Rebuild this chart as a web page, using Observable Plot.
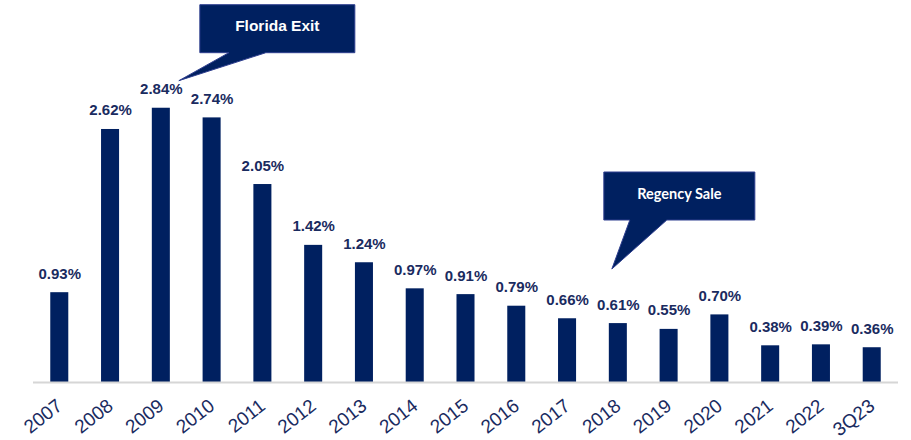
<!DOCTYPE html>
<html>
<head>
<meta charset="utf-8">
<script src="https://cdn.jsdelivr.net/npm/d3@7"></script>
<script src="https://cdn.jsdelivr.net/npm/@observablehq/plot@0.6"></script>
<style>
  html, body { margin: 0; padding: 0; background: #fff; }
  #chart svg { display: block; }
</style>
</head>
<body>
<div id="chart"></div>
<script>
const categories = ["2007","2008","2009","2010","2011","2012","2013","2014","2015","2016","2017","2018","2019","2020","2021","2022","3Q23"];
const values = [0.93, 2.62, 2.84, 2.74, 2.05, 1.42, 1.24, 0.97, 0.91, 0.79, 0.66, 0.61, 0.55, 0.70, 0.38, 0.39, 0.36];
const calloutLabels = ["Florida Exit", "Regency Sale"];
const calloutYears = ["2009", "2018"];
const calloutValues = [3.12, 1.17];

const data = categories.map((c, i) => ({cat: c, value: values[i]}));
const NAVY = "#002060";
const LABEL = "#1a2b5f";

// callout geometry (pixel offsets relative to the pointer tip)
const calloutShapes = [
  {dx: 18, box: [21, 176, -76, -28], base: [50, 87], font: "bold 15.5px 'Liberation Sans', Arial, sans-serif", ty: -3},
  {dx: -6, box: [-8, 143, -97, -49], base: [18, 55], font: "bold 14.5px Lato, 'Open Sans', sans-serif", ty: -3}
];

function calloutMark(index, scales) {
  const ns = "http://www.w3.org/2000/svg";
  const g = document.createElementNS(ns, "g");
  calloutLabels.forEach((lab, i) => {
    const s = calloutShapes[i];
    const tx = scales.x(calloutYears[i]) + scales.x.bandwidth() / 2 + s.dx;
    const ty = scales.y(calloutValues[i]);
    const [x0, x1, y0, y1] = s.box;
    const path = document.createElementNS(ns, "path");
    const d = [
      `M${tx + x0},${ty + y0}`,
      `L${tx + x1},${ty + y0}`,
      `L${tx + x1},${ty + y1}`,
      `L${tx + s.base[1]},${ty + y1}`,
      `L${tx},${ty}`,
      `L${tx + s.base[0]},${ty + y1}`,
      `L${tx + x0},${ty + y1}`,
      "Z"
    ].join(" ");
    path.setAttribute("d", d);
    path.setAttribute("fill", NAVY);
    path.setAttribute("stroke", "#2f3f8f");
    path.setAttribute("stroke-width", "1");
    g.appendChild(path);
    const t = document.createElementNS(ns, "text");
    t.setAttribute("x", tx + (x0 + x1) / 2);
    t.setAttribute("y", ty + (y0 + y1) / 2 + s.ty);
    t.setAttribute("text-anchor", "middle");
    t.setAttribute("dominant-baseline", "central");
    t.setAttribute("fill", "#ffffff");
    t.setAttribute("style", `font: ${s.font}`);
    t.textContent = lab;
    g.appendChild(t);
  });
  return g;
}

const chart = Plot.plot({
  width: 911,
  height: 440,
  marginLeft: 33,
  marginRight: 13,
  marginTop: 44,
  marginBottom: 58,
  style: {fontFamily: "'Liberation Sans', Arial, sans-serif", background: "#fff"},
  x: {domain: categories, paddingInner: 0.645, paddingOuter: 0.34, round: false, axis: null},
  y: {domain: [0, 3.5], axis: null},
  marks: [
    Plot.barY(data, {x: "cat", y: "value", fill: NAVY}),
    Plot.ruleY([0], {stroke: "#d6d6d6", strokeWidth: 2}),
    Plot.text(data, {
      x: "cat", y: "value",
      text: d => d.value.toFixed(2) + "%",
      dy: -14, lineAnchor: "bottom",
      fill: LABEL, fontWeight: "bold", fontSize: 15
    }),
    Plot.text(data, {
      x: "cat", y: () => 0,
      text: "cat",
      dx: 0, dy: 21, rotate: -38,
      textAnchor: "end", lineAnchor: "middle",
      fill: LABEL, fontSize: 19
    }),
    calloutMark
  ]
});
document.getElementById("chart").appendChild(chart);
</script>
</body>
</html>
